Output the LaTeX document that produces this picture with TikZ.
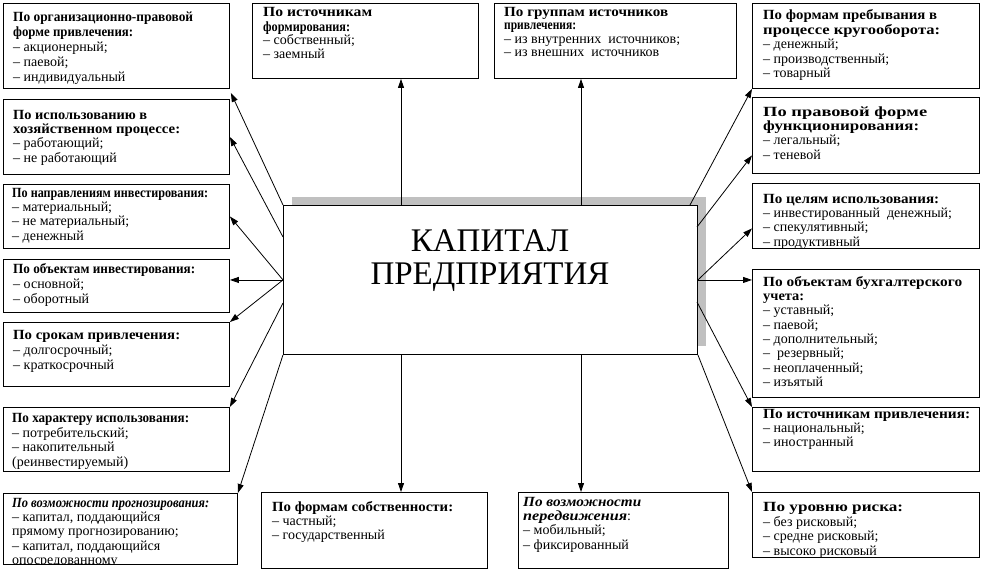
\documentclass[tikz,border=0pt]{standalone}
\usepackage{fontspec}
\setmainfont{Liberation Serif}
\usetikzlibrary{arrows.meta,calc}
\newlength\hdlen
\newcommand\hd[2]{\settowidth\hdlen{\textbf{#2}}\scalebox{\fpeval{#1/\hdlen}}[1]{\textbf{#2}}}
\newcommand\hdi[2]{\settowidth\hdlen{\textbf{\textit{#2}}}\scalebox{\fpeval{#1/\hdlen}}[1]{\textbf{\textit{#2}}}}
\definecolor{shadowgray}{RGB}{192,192,192}
\begin{document}
\begin{tikzpicture}[x=1pt,y=1pt,
  box/.style={draw, line width=0.9pt, fill=white, inner sep=0pt, anchor=north west},
  txt/.style={anchor=north west, inner sep=0pt, align=left, font=\fontsize{14}{14.3}\selectfont},
  txtw/.style={txt, font=\fontsize{14}{15}\selectfont},
  txtn/.style={txt, font=\fontsize{14}{13.4}\selectfont},
  arr/.style={line width=0.8pt, -{Triangle[length=9pt,width=6pt]}},
  big/.style={anchor=north, inner sep=0pt, align=center, font=\fontsize{33}{32.5}\selectfont}]
\useasboundingbox (0,0) rectangle (982,-570);
\fill[white] (0,0) rectangle (982,-570);

% centre
\fill[shadowgray] (292,-197) rectangle (706,-346);
\node[box, minimum width=414, minimum height=149] (C) at (283,-205) {};
\node[big] (Ct) at (490,-229) {\strut КАПИТАЛ\\ПРЕДПРИЯТИЯ};

% left column
\node[box, minimum width=226, minimum height=85] (L1) at (3,-3) {};
\node[txtw] (L1t) at (13,-11) {\strut\hd{180}{По организационно-правовой}\\\hd{120}{форме привлечения:}\\– акционерный;\\– паевой;\\– индивидуальный};
\node[box, minimum width=226, minimum height=75] (L2) at (3,-99) {};
\node[txt] (L2t) at (13,-109) {\strut\hd{134}{По использованию в}\\\hd{167}{хозяйственном процессе:}\\– работающий;\\– не работающий};
\node[box, minimum width=226, minimum height=64] (L3) at (3,-184) {};
\node[txt] (L3t) at (12,-187) {\strut\hd{196}{По направлениям инвестирования:}\\– материальный;\\– не материальный;\\– денежный};
\node[box, minimum width=226, minimum height=53] (L4) at (3,-259) {};
\node[txtw] (L4t) at (13,-263) {\strut\hd{182}{По объектам инвестирования:}\\– основной;\\– оборотный};
\node[box, minimum width=226, minimum height=64] (L5) at (3,-322) {};
\node[txtw] (L5t) at (13,-329) {\strut\hd{167}{По срокам привлечения:}\\– долгосрочный;\\– краткосрочный};
\node[box, minimum width=226, minimum height=64] (L6) at (3,-407) {};
\node[txt] (L6t) at (12,-412) {\strut\hd{177}{По характеру использования:}\\– потребительский;\\– накопительный\\(реинвестируемый)};
\node[box, minimum width=234, minimum height=71] (L7) at (3,-493) {};
\begin{scope}
\clip (3,-493) rectangle (237,-564);
\node[txt] (L7t) at (12,-497) {\strut\hdi{197}{По возможности прогнозирования:}\\– капитал, поддающийся\\прямому прогнозированию;\\– капитал, поддающийся\\опосредованному};
\end{scope}

% top
\node[box, minimum width=226, minimum height=75] (T1) at (252,-3) {};
\node[txtn] (T1t) at (263,-7) {\strut\hd{109}{По источникам}\\\hd{87}{формирования:}\\– собственный;\\– заемный};
\node[box, minimum width=242, minimum height=75] (T2) at (494,-3) {};
\node[txtn] (T2t) at (504,-7) {\strut\hd{164}{По группам источников}\\\hd{72}{привлечения:}\\– из внутренних\ \ источников;\\– из внешних\ \ источников};

% bottom
\node[box, minimum width=226, minimum height=76] (B1) at (261,-492) {};
\node[txt] (B1t) at (272,-501) {\strut\hd{181}{По формам собственности:}\\– частный;\\– государственный};
\node[box, minimum width=210, minimum height=76] (B2) at (518,-492) {};
\node[txt] (B2t) at (523,-496) {\strut\hdi{118}{По возможности}\\\hdi{104}{передвижения}:\\– мобильный;\\– фиксированный};

% right column
\node[box, minimum width=227, minimum height=85] (R1) at (752,-3) {};
\node[txt] (R1t) at (763,-9) {\strut\hd{174}{По формам пребывания в}\\\hd{177}{процессе кругооборота:}\\– денежный;\\– производственный;\\– товарный};
\node[box, minimum width=227, minimum height=76] (R2) at (752,-97) {};
\node[txt] (R2t) at (763,-106) {\strut\hd{164}{По правовой форме}\\\hd{156}{функционирования:}\\– легальный;\\– теневой};
\node[box, minimum width=227, minimum height=65] (R3) at (752,-183) {};
\node[txt] (R3t) at (763,-193) {\strut\hd{176}{По целям использования:}\\– инвестированный\ \ денежный;\\– спекулятивный;\\– продуктивный};
\node[box, minimum width=227, minimum height=128] (R4) at (752,-269) {};
\node[txt] (R4t) at (763,-276) {\strut\hd{199}{По объектам бухгалтерского}\\\hd{41}{учета:}\\– уставный;\\– паевой;\\– дополнительный;\\–\ \ резервный;\\– неоплаченный;\\– изъятый};
\node[box, minimum width=227, minimum height=64] (R5) at (752,-407) {};
\node[txt] (R5t) at (763,-408) {\strut\hd{207}{По источникам привлечения:}\\– национальный;\\– иностранный};
\node[box, minimum width=227, minimum height=65] (R6) at (752,-492) {};
\node[txt] (R6t) at (763,-501) {\strut\hd{140}{По уровню риска:}\\– без рисковый;\\– средне рисковый;\\– высоко рисковый};

% connector start points on the centre box
\coordinate (sL1) at (283,-205);
\coordinate (sL2) at (283,-237);
\coordinate (sL6) at (283,-303);
\coordinate (sT1) at (401,-205);
\coordinate (sT2) at (581,-205);
\coordinate (sB1) at (401,-354);
\coordinate (sB2) at (581,-354);
\coordinate (sR1) at (690,-205);
\coordinate (sR2) at (697,-227);
\coordinate (sR5) at (697,-302);

% connectors
\draw[arr] (sL1) -- ([shift={(1,-4)}]L1.south east);
\draw[arr] (sL2) -- (L2.east);
\draw[arr] (C.west) -- (L3.east);
\draw[arr] (C.west) -- (L4.east |- C.west);
\draw[arr] (C.west) -- (L5.north east);
\draw[arr] (sL6) -- (L6.north east);
\draw[arr] (C.south west) -- (L7.north east);
\draw[arr] (sT1) -- (sT1 |- T1.south);
\draw[arr] (sT2) -- (sT2 |- T2.south);
\draw[arr] (sB1) -- (sB1 |- B1.north);
\draw[arr] (sB2) -- (sB2 |- B2.north);
\draw[arr] (sR1) -- (R1.south west);
\draw[arr] (sR2) -- ([shift={(0,-20)}]R2.west);
\draw[arr] (C.east) -- ([shift={(0,-12.5)}]R3.west);
\draw[arr] (C.east) -- (R4.west |- C.east);
\draw[arr] (sR5) -- (R5.north west);
\draw[arr] (C.south east) -- (R6.north west);
\end{tikzpicture}
\end{document}
